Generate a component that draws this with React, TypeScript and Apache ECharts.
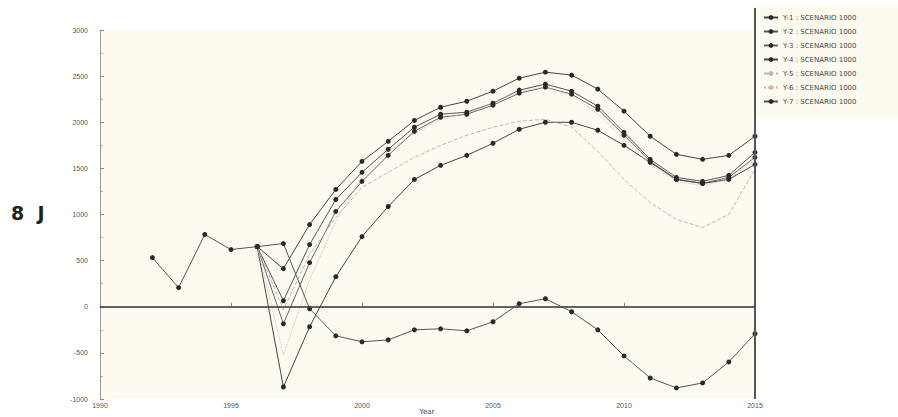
import React, { useEffect, useRef } from "react";
import * as echarts from "echarts";

const years = [1992,1993,1994,1995,1996,1997,1998,1999,2000,2001,2002,2003,2004,2005,2006,2007,2008,2009,2010,2011,2012,2013,2014,2015];
const N = null;
const seriesNames = [
  "Y-1 : SCENARIO 1000",
  "Y-2 : SCENARIO 1000",
  "Y-3 : SCENARIO 1000",
  "Y-4 : SCENARIO 1000",
  "Y-5 : SCENARIO 1000",
  "Y-6 : SCENARIO 1000",
  "Y-7 : SCENARIO 1000",
];
const sB = [N,N,N,N,652,413,891,1272,1576,1793,2020,2163,2228,2337,2478,2543,2511,2359,2120,1848,1652,1598,1641,1848];
const sC = [N,N,N,N,652,65,674,1163,1457,1707,1946,2087,2109,2207,2348,2413,2337,2174,1891,1598,1402,1359,1424,1674];
const sE = [N,N,N,N,652,-185,478,1033,1359,1641,1902,2054,2087,2185,2315,2380,2304,2141,1859,1576,1380,1337,1402,1620];
const sD = [N,N,N,N,652,-870,-217,326,761,1087,1380,1533,1641,1772,1924,2000,2000,1913,1750,1565,1380,1337,1380,1543];
const sF = [N,N,N,N,652,-33,565,967,1293,1457,1620,1750,1859,1946,2011,2033,1946,1685,1380,1130,946,859,1000,1489];
const sG = [N,N,N,N,652,-522,293,924,1402,1685,1880,2033,2098,2207,2337,2380,2293,2087,1815,1543,1359,1315,1380,1598];
const sA = [533,207,783,620,652,685,-22,-315,-380,-359,-250,-239,-261,-163,33,87,-54,-250,-533,-772,-880,-826,-598,-293];
const yTicks = [-1000,-500,0,500,1000,1500,2000,2500,3000];
const xTicks = [1990,1995,2000,2005,2010,2015];
const xTitle = "Year";
const yTitle = "8  J";

const pairs = (arr: (number | null)[]) => years.map((y, i) => [y, arr[i]]);

export default function App() {
  const ref = useRef<HTMLDivElement>(null);
  useEffect(() => {
    document.body.style.margin = "0";
    const chart = echarts.init(ref.current!, undefined, { renderer: "svg" });
    const markerSeries = (name: string, data: (number | null)[], color: string, extra: any = {}) => ({
      name,
      type: "line",
      data: pairs(data),
      symbol: "circle",
      symbolSize: 5,
      itemStyle: { color: "#2a2a2a" },
      lineStyle: { color, width: 1 },
      connectNulls: false,
      ...extra,
    });
    const dashedSeries = (name: string, data: (number | null)[], color: string, type: any) => ({
      name,
      type: "line",
      data: pairs(data),
      symbol: "none",
      itemStyle: { color },
      lineStyle: { color, width: 1, type },
    });
    chart.setOption({
      animation: false,
      backgroundColor: "#ffffff",
      graphic: [
        { type: "rect", shape: { x: 100, y: 30, width: 655, height: 369 }, style: { fill: "#fdfbf0" }, z: -10 },
        { type: "rect", shape: { x: 752, y: 5, width: 146, height: 112 }, style: { fill: "#fdfbf0" }, z: -10 },
        { type: "line", shape: { x1: 755, y1: 8, x2: 755, y2: 399 }, style: { stroke: "#555", lineWidth: 2 }, z: 5 },
        { type: "text", x: 11, y: 203, style: { text: yTitle, font: "bold 19px 'DejaVu Sans'", fill: "#222" } },
        { type: "text", x: 427, y: 408, style: { text: xTitle, font: "7px 'DejaVu Sans'", fill: "#444", textAlign: "center", textVerticalAlign: "top" } },
      ],
      legend: {
        orient: "vertical",
        left: 758,
        top: 9,
        itemGap: 7,
        itemWidth: 14,
        itemHeight: 6,
        textStyle: { fontSize: 7, color: "#444", fontFamily: "DejaVu Sans" },
        data: seriesNames,
      },
      grid: { left: 100, width: 655, top: 30, height: 369, containLabel: false, outerBoundsMode: "none" },
      xAxis: {
        type: "value",
        min: 1990,
        max: 2015,
        interval: 5,
        axisLine: { show: true, lineStyle: { color: "#aaa", width: 1.5 } },
        axisTick: { show: true, inside: true, length: 4, lineStyle: { color: "#888" } },
        minorTick: { show: false },
        axisLabel: { fontSize: 7, color: "#555", margin: 3, formatter: (v: number) => (xTicks.includes(v) ? String(v) : "") },
        splitLine: { show: false },
      },
      yAxis: {
        type: "value",
        min: -1000,
        max: 3000,
        interval: 500,
        axisLine: { show: true, lineStyle: { color: "#999", width: 1 } },
        axisTick: { show: true, inside: true, length: 4, lineStyle: { color: "#888" } },
        minorTick: { show: true, splitNumber: 2, length: 3, lineStyle: { color: "#aaa" } },
        axisLabel: { fontSize: 7, color: "#555", margin: 12, formatter: (v: number) => (yTicks.includes(v) ? String(v) : "") },
        splitLine: { show: false },
      },
      series: [
        markerSeries(seriesNames[0], sB, "#444"),
        markerSeries(seriesNames[1], sC, "#555"),
        markerSeries(seriesNames[2], sE, "#666"),
        markerSeries(seriesNames[3], sD, "#444"),
        dashedSeries(seriesNames[4], sF, "#b8b8b8", "dashed"),
        dashedSeries(seriesNames[5], sG, "#d9b5b5", "dotted"),
        markerSeries(seriesNames[6], sA, "#555", {
          markLine: {
            silent: true,
            symbol: "none",
            label: { show: false },
            lineStyle: { color: "#444", width: 1.5, type: "solid" },
            data: [{ yAxis: 0 }],
          },
        }),
      ],
    });
    return () => chart.dispose();
  }, []);
  return <div ref={ref} style={{ width: 898, height: 417 }} />;
}
